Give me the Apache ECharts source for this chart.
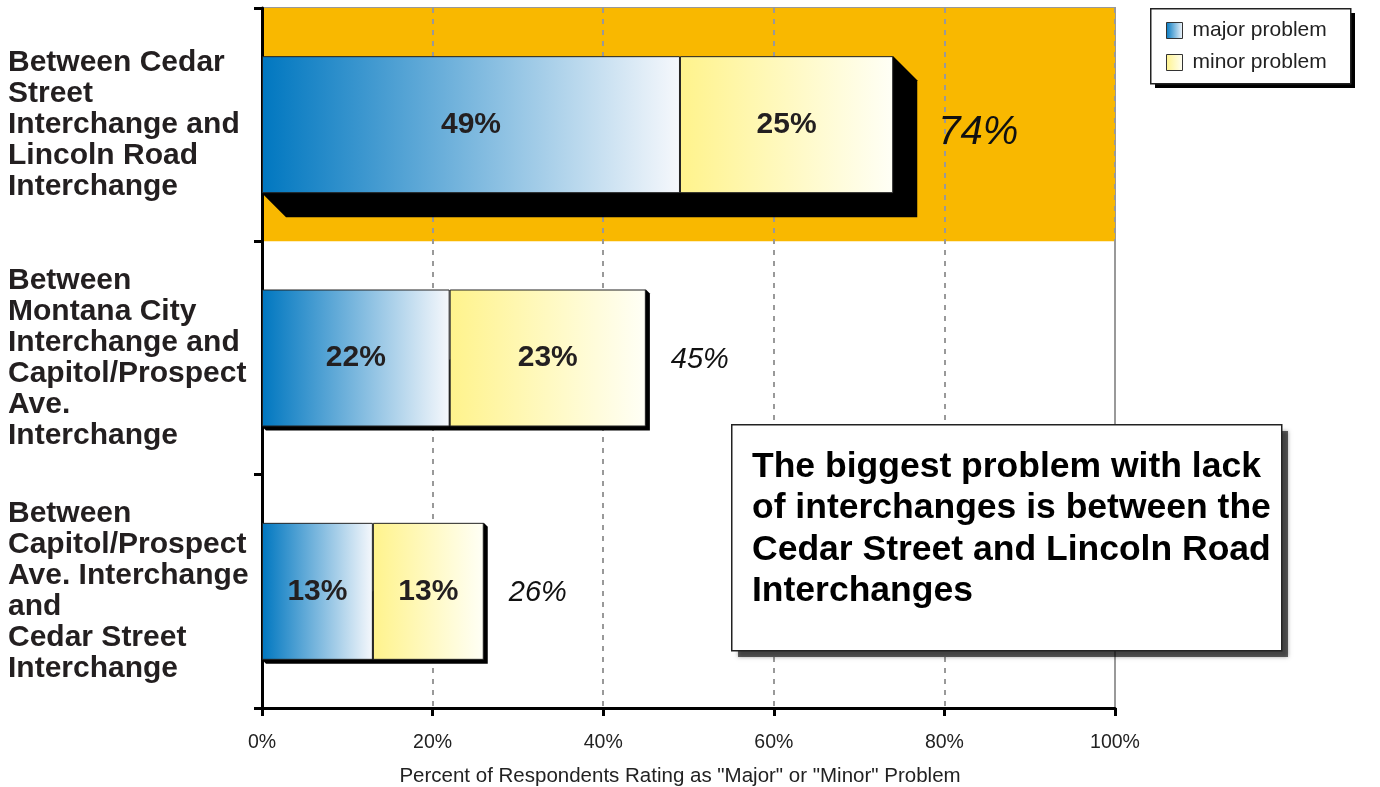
<!DOCTYPE html>
<html>
<head>
<meta charset="utf-8">
<script src="https://cdn.jsdelivr.net/npm/echarts@6/dist/echarts.min.js"></script>
<style>
  html, body { margin: 0; padding: 0; background: #fff; }
  #chart { width: 1380px; height: 787px; }
</style>
</head>
<body>
<div id="chart"></div>
<script>
// categories top to bottom
let categories = [
    'Between Cedar\nStreet\nInterchange and\nLincoln Road\nInterchange',
    'Between\nMontana City\nInterchange and\nCapitol/Prospect\nAve.\nInterchange',
    'Between\nCapitol/Prospect\nAve. Interchange\nand\nCedar Street\nInterchange'
];
let major_values = [49, 22, 13];
let minor_values = [25, 23, 13];
let x_ticks = [0, 20, 40, 60, 80, 100];
let series_names = ['major problem', 'minor problem'];

let totals = major_values.map((v, i) => v + minor_values[i]);
let biggest = totals.indexOf(Math.max(...totals));

let font = 'Arial, "Liberation Sans", sans-serif';
let bar_width = 137;

// orange band only behind the biggest category
let band_colors = categories.map((c, i) => i === biggest ? '#F9B800' : 'rgba(0,0,0,0)');

function shadow_item(params, api) {
    let idx = api.value(0);
    let total = api.value(1);
    let start = api.coord([0, idx]);
    let end = api.coord([total, idx]);
    let d = idx === biggest ? 24 : 4;
    let x0 = start[0], x1 = end[0];
    let y0 = start[1] - bar_width / 2, y1 = start[1] + bar_width / 2;
    return {
        type: 'group',
        children: [
            {
                type: 'polygon',
                shape: {
                    points: [[x1, y0], [x1 + d, y0 + d], [x1 + d, y1 + d], [x0 + d, y1 + d], [x0, y1]]
                },
                style: { fill: '#000' }
            },
            {
                type: 'text',
                style: {
                    text: total + '%',
                    x: x1 + d + 21,
                    y: start[1] + (idx === biggest ? 8 : 2),
                    verticalAlign: 'middle',
                    align: 'left',
                    fill: '#111',
                    font: 'italic ' + (idx === biggest ? 40 : 29) + 'px ' + font
                }
            }
        ]
    };
}

// a white box with a border and a separate shadow rect behind it
function boxed(left, top, width, height, offset, shadow_color, blur, z) {
    return [
        {
            type: 'rect',
            left: left + offset,
            top: top + offset,
            shape: { width: width, height: height },
            style: { fill: shadow_color, shadowColor: shadow_color, shadowBlur: blur },
            z: z
        },
        {
            type: 'rect',
            left: left,
            top: top,
            shape: { width: width, height: height },
            style: { fill: '#fff', stroke: '#222', lineWidth: 1.5 },
            z: z
        }
    ];
}

let option = {
    animation: false,
    textStyle: { fontFamily: font },
    grid: {
        left: 262,
        right: 265,
        top: 8,
        bottom: 79,
        outerBoundsMode: 'none',
        containLabel: false,
        show: true,
        borderColor: '#999',
        borderWidth: 2
    },
    legend: {
        data: series_names,
        orient: 'vertical',
        left: 1151,
        top: 8,
        padding: [12, 10, 10, 15],
        itemGap: 11,
        itemWidth: 16,
        itemHeight: 16,
        icon: 'rect',
        z: 6,
        itemStyle: { borderColor: '#333', borderWidth: 1 },
        textStyle: { fontSize: 21, color: '#222', padding: [0, 0, 0, 5], fontFamily: font }
    },
    xAxis: {
        type: 'value',
        min: x_ticks[0],
        max: x_ticks[x_ticks.length - 1],
        interval: x_ticks[1] - x_ticks[0],
        name: 'Percent of Respondents Rating as "Major" or "Minor" Problem',
        nameLocation: 'middle',
        nameGap: 58,
        nameTextStyle: { fontSize: 20.5, color: '#222', padding: [0, 17, 0, 0] },
        axisLine: { show: true, lineStyle: { color: '#000', width: 3 } },
        axisTick: { show: true, length: 8, lineStyle: { color: '#000', width: 3 } },
        axisLabel: { formatter: '{value}%', fontSize: 19.5, color: '#222', margin: 25 },
        splitLine: { show: true, lineStyle: { color: '#999', width: 2, type: [5, 6] } }
    },
    yAxis: {
        type: 'category',
        data: categories,
        inverse: true,
        axisLine: { show: true, lineStyle: { color: '#000', width: 3 } },
        axisTick: { show: true, length: 8, lineStyle: { color: '#000', width: 3 } },
        axisLabel: {
            align: 'left',
            margin: 254,
            fontSize: 30,
            fontWeight: 'bold',
            lineHeight: 31,
            color: '#231F20'
        },
        splitArea: { show: true, areaStyle: { color: band_colors } }
    },
    graphic: [
        // legend box
        ...boxed(1150, 8, 200, 75, 5, '#000', 0, 3),
        // callout box
        ...boxed(731, 424, 550, 226, 7, 'rgba(0,0,0,0.6)', 4, 10),
        {
            type: 'text',
            left: 752,
            top: 446,
            style: {
                text: 'The biggest problem with lack\nof interchanges is between the\nCedar Street and Lincoln Road\nInterchanges',
                font: 'bold 35.5px ' + font,
                lineHeight: 41.5,
                fill: '#000'
            },
            z: 11
        }
    ],
    series: [
        {
            type: 'custom',
            name: 'shadow',
            renderItem: shadow_item,
            encode: { x: 1, y: 0 },
            data: totals.map((t, i) => [i, t]),
            clip: false,
            z: 1,
            silent: true
        },
        {
            name: series_names[0],
            type: 'bar',
            stack: 'total',
            barWidth: bar_width,
            data: major_values,
            z: 3,
            itemStyle: {
                borderColor: '#222',
                borderWidth: 1,
                color: new echarts.graphic.LinearGradient(0, 0, 1, 0, [
                    { offset: 0, color: '#0077C0' },
                    { offset: 1, color: '#F6F8FC' }
                ])
            },
            label: {
                show: true,
                position: 'inside',
                formatter: '{c}%',
                fontSize: 30,
                fontWeight: 'bold',
                color: '#231F20'
            }
        },
        {
            name: series_names[1],
            type: 'bar',
            stack: 'total',
            barWidth: bar_width,
            data: minor_values,
            z: 3,
            itemStyle: {
                borderColor: '#222',
                borderWidth: 1,
                color: new echarts.graphic.LinearGradient(0, 0, 1, 0, [
                    { offset: 0, color: '#FFF38C' },
                    { offset: 1, color: '#FFFFF6' }
                ])
            },
            label: {
                show: true,
                position: 'inside',
                formatter: '{c}%',
                fontSize: 30,
                fontWeight: 'bold',
                color: '#231F20'
            }
        }
    ]
};

let myChart = echarts.init(document.getElementById('chart'));
myChart.setOption(option);
</script>
</body>
</html>
